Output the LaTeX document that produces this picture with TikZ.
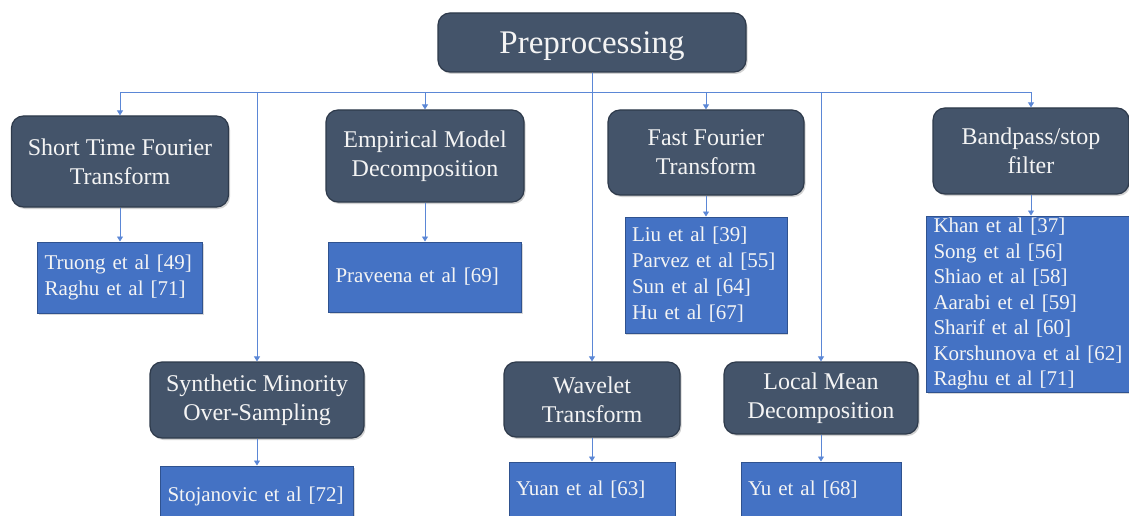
\documentclass[tikz,border=0pt]{standalone}
\usepackage{fontspec}
\setmainfont{Liberation Serif}
\usetikzlibrary{arrows.meta,shadows}
\definecolor{darkbox}{HTML}{44546A}
\definecolor{darkedge}{HTML}{2E3A4B}
\definecolor{bluebox}{HTML}{4472C4}
\definecolor{blueedge}{HTML}{2F528F}
\definecolor{connc}{HTML}{5B87D6}
\definecolor{txt}{HTML}{F4F4F4}
\tikzset{
 catbox/.style={draw=darkedge, line width=1.2pt, fill=darkbox, rounded corners=12pt, text=txt, align=center,
   font=\fontsize{24}{29}\selectfont, inner sep=0pt,
   drop shadow={opacity=0.35,shadow xshift=1.5pt,shadow yshift=-2pt}},
 refbox/.style={draw=blueedge, line width=1pt, fill=bluebox, text=txt, align=left,
   font=\fontsize{21}{26}\selectfont, inner xsep=7pt, inner ysep=0pt,
   drop shadow={opacity=0.3,shadow xshift=1pt,shadow yshift=-1.5pt}},
 link/.style={draw=connc, line width=0.8pt, -{Triangle[length=5pt,width=6pt]}},
}
\begin{document}
\begin{tikzpicture}[x=1pt,y=-1pt]
\useasboundingbox (0,0) rectangle (1129,516);
\clip (0,0) rectangle (1129,516);
\fill[white] (0,0) rectangle (1129,516);
% category boxes
\node[catbox, minimum width=308pt, minimum height=59pt, font=\fontsize{33}{38}\selectfont, text height=30pt, text depth=7pt] (pre) at (592,42.5) {Preprocessing};
\node[catbox, minimum width=217pt, minimum height=91pt] (stft) at (120,161.5) {Short Time Fourier\\Transform};
\node[catbox, minimum width=198pt, minimum height=92pt] (emd) at (425,156) {Empirical Model\\Decomposition};
\node[catbox, minimum width=196pt, minimum height=85pt] (fft) at (706,152.5) {Fast Fourier\\Transform};
\node[catbox, minimum width=196pt, minimum height=86pt] (bpf) at (1031,151) {Bandpass/stop\\filter};
\node[catbox, minimum width=214pt, minimum height=76pt] (smote) at (257,400) {Synthetic Minority\\Over-Sampling};
\node[catbox, minimum width=176pt, minimum height=75pt] (wav) at (592,399.5) {Wavelet\\Transform};
\node[catbox, minimum width=194pt, minimum height=72pt] (lmd) at (821,398) {Local Mean\\Decomposition};
% reference boxes
\node[refbox, minimum width=165pt, minimum height=71pt, text width=151pt] (stftl) at (120,277.5) {Truong et al [49]\\Raghu et al [71]};
\node[refbox, minimum width=193pt, minimum height=70pt, text width=179pt] (emdl) at (425,277) {Praveena et al [69]};
\node[refbox, minimum width=162pt, minimum height=116pt, text width=148pt] (fftl) at (706,275) {Liu et al [39]\\Parvez et al [55]\\Sun et al [64]\\Hu et al [67]};
\node[refbox, minimum width=203pt, minimum height=176pt, text width=189pt, font=\fontsize{21}{25.5}\selectfont] (bpfl) at (1028,304) {Khan et al [37]\\Song et al [56]\\Shiao et al [58]\\Aarabi et el [59]\\Sharif et al [60]\\Korshunova et al [62]\\Raghu et al [71]};
\node[refbox, minimum width=193pt, minimum height=60pt, text width=179pt] (smotel) at (257,496) {Stojanovic  et al [72]};
\node[refbox, minimum width=166pt, minimum height=56pt, text width=152pt] (wavl) at (592,490) {Yuan et al [63]};
\node[refbox, minimum width=160pt, minimum height=56pt, text width=146pt] (lmdl) at (821,490) {Yu et al [68]};
% connectors
\coordinate (bus) at (592,92);
\draw[link] (pre.south) -- (bus) -| (stft.north);
\draw[link] (pre.south) -- (bus) -| (smote.north);
\draw[link] (pre.south) -- (bus) -| (emd.north);
\draw[link] (pre.south) -- (wav.north);
\draw[link] (pre.south) -- (bus) -| (fft.north);
\draw[link] (pre.south) -- (bus) -| (lmd.north);
\draw[link] (pre.south) -- (bus) -| (bpf.north);
\draw[link] (stft.south) -- (stft.south |- stftl.north);
\draw[link] (emd.south) -- (emd.south |- emdl.north);
\draw[link] (fft.south) -- (fft.south |- fftl.north);
\draw[link] (bpf.south) -- (bpf.south |- bpfl.north);
\draw[link] (smote.south) -- (smote.south |- smotel.north);
\draw[link] (wav.south) -- (wav.south |- wavl.north);
\draw[link] (lmd.south) -- (lmd.south |- lmdl.north);
\end{tikzpicture}
\end{document}
